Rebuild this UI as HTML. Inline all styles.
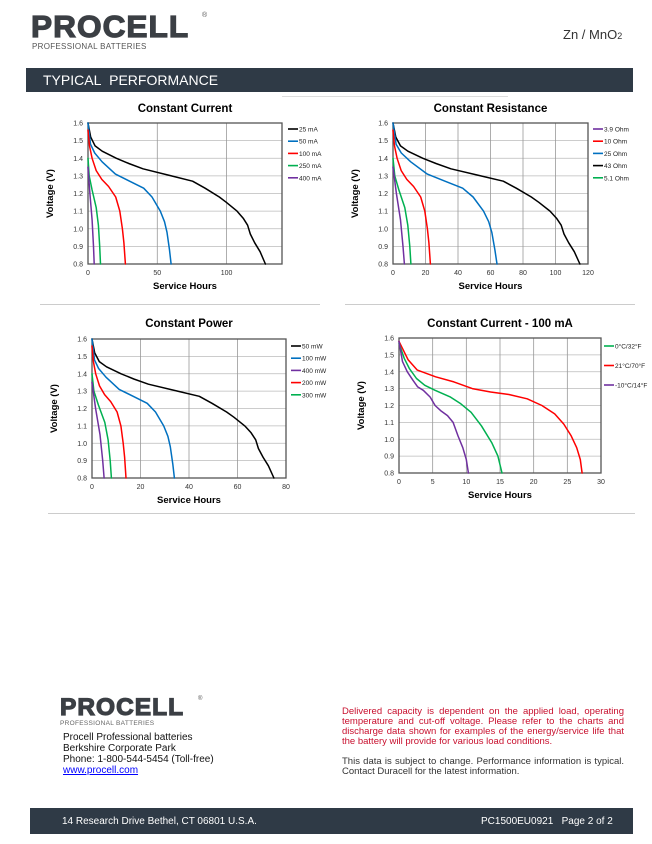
<!DOCTYPE html>
<html><head><meta charset="utf-8"><style>
body{margin:0;width:652px;height:844px;background:#fff;font-family:"Liberation Sans",sans-serif;position:relative;overflow:hidden}
.abs{position:absolute}
.logo{font-weight:900;color:#3b3f44;letter-spacing:1px;font-family:"Liberation Sans",sans-serif;-webkit-text-stroke:1.2px #3b3f44}
</style></head><body>
<div class="abs logo" style="left:31px;top:9px;font-size:31px;transform:scaleX(1.02);transform-origin:left">PROCELL</div>
<div class="abs" style="left:202px;top:12px;font-size:7px;color:#555">®</div>
<div class="abs" style="left:32px;top:42px;font-size:8px;color:#555;letter-spacing:.3px">PROFESSIONAL BATTERIES</div>
<div class="abs" style="left:563px;top:27px;font-size:13px;color:#333">Zn / MnO<span style="font-size:9px">2</span></div>
<div class="abs" style="left:26px;top:68px;width:607px;height:24px;background:#2f3a46"></div>
<div class="abs" style="left:43px;top:72px;font-size:14px;color:#fff">TYPICAL&nbsp; PERFORMANCE</div>
<div class="abs" style="left:282px;top:96px;width:226px;height:1px;background:#ddd"></div>
<div class="abs" style="left:40px;top:304px;width:280px;height:1px;background:#ccc"></div>
<div class="abs" style="left:345px;top:304px;width:290px;height:1px;background:#ccc"></div>
<div class="abs" style="left:48px;top:513px;width:587px;height:1px;background:#ccc"></div>
<svg id="s" class="abs" style="left:0;top:0" width="652" height="560" font-family="Liberation Sans, sans-serif"></svg>

<div class="abs logo" style="left:60px;top:694px;font-size:24px;transform:scaleX(1.02);transform-origin:left">PROCELL</div>
<div class="abs" style="left:198px;top:696px;font-size:6px;color:#555">®</div>
<div class="abs" style="left:60px;top:720px;font-size:6.5px;color:#666;letter-spacing:.3px">PROFESSIONAL BATTERIES</div>
<div class="abs" style="left:63px;top:732px;font-size:10px;line-height:11px;color:#111">Procell Professional batteries<br>Berkshire Corporate Park<br>Phone: 1-800-544-5454 (Toll-free)<br><span style="color:#00f;text-decoration:underline">www.procell.com</span></div>
<div class="abs" style="left:342px;top:707px;width:282px;font-size:9.5px;line-height:10px;color:#c8102e;text-align:justify">Delivered capacity is dependent on the applied load, operating temperature and cut-off voltage. Please refer to the charts and discharge data shown for examples of the energy/service life that the battery will provide for various load conditions.</div>
<div class="abs" style="left:342px;top:757px;width:282px;font-size:9.5px;line-height:10px;color:#333;text-align:justify">This data is subject to change. Performance information is typical. Contact Duracell for the latest information.</div>
<div class="abs" style="left:30px;top:808px;width:603px;height:26px;background:#2f3a46"></div>
<div class="abs" style="left:62px;top:816px;font-size:10px;color:#fff">14 Research Drive Bethel, CT 06801 U.S.A.</div>
<div class="abs" style="left:481px;top:816px;font-size:10px;color:#fff">PC1500EU0921 &nbsp; Page 2 of 2</div>
<script>
var s=document.getElementById('s'),h='';
var A=[[0,1.6],[.015,1.52],[.04,1.47],[.08,1.44],[.16,1.4],[.23,1.37],[.31,1.34],[.47,1.3],[.59,1.27],[.66,1.23],[.74,1.18],[.78,1.15],[.84,1.1],[.875,1.06],[.9,1.02],[.915,.97],[.94,.92],[.97,.87],[1,.8]];
var B=[[0,1.6],[.03,1.48],[.08,1.43],[.17,1.38],[.33,1.31],[.5,1.27],[.67,1.23],[.77,1.18],[.87,1.1],[.92,1.04],[.95,.98],[.98,.88],[1,.8]];
var C=[[0,1.56],[.04,1.47],[.11,1.4],[.22,1.33],[.37,1.28],[.55,1.24],[.74,1.18],[.85,1.1],[.92,1.0],[.96,.92],[1,.8]];
var D=[[0,1.4],[.1,1.3],[.33,1.22],[.66,1.12],[.83,1.02],[.94,.9],[1,.8]];
var E=[[0,1.35],[.3,1.2],[.66,1.05],[.88,.9],[1,.8]];
var W=[[0,1.58],[.05,1.47],[.1,1.41],[.2,1.37],[.3,1.34],[.4,1.3],[.5,1.28],[.6,1.265],[.7,1.24],[.78,1.2],[.85,1.15],[.9,1.09],[.94,1.02],[.97,.95],[.99,.88],[1,.8]];
var G=[[0,1.57],[.05,1.48],[.1,1.42],[.17,1.36],[.25,1.32],[.35,1.29],[.5,1.25],[.6,1.21],[.7,1.16],[.8,1.08],[.9,.98],[.96,.9],[1,.8]];
var P=[[0,1.58],[.05,1.46],[.12,1.4],[.2,1.35],[.27,1.31],[.35,1.29],[.45,1.25],[.52,1.2],[.6,1.17],[.7,1.14],[.78,1.1],[.85,1.02],[.92,.95],[.97,.88],[1,.8]];
function chart(c){
 var sx=function(x){return c.x0+(c.x1-c.x0)*x/c.xmax},sy=function(v){return c.y1-(c.y1-c.y0)*(v-.8)/.8};
 for(var i=0;i<=8;i++){var y=sy(.8+i*.1);h+='<line x1="'+c.x0+'" x2="'+c.x1+'" y1="'+y+'" y2="'+y+'" stroke="#bbb" stroke-width="0.8"/>';
  h+='<text x="'+(c.x0-5)+'" y="'+(y+2.5)+'" font-size="7" fill="#333" text-anchor="end">'+(0.8+i*.1).toFixed(1)+'</text>';}
 c.xt.forEach(function(t){var x=sx(t);h+='<line x1="'+x+'" x2="'+x+'" y1="'+c.y0+'" y2="'+c.y1+'" stroke="#999" stroke-width="0.8"/><text x="'+x+'" y="'+(c.y1+11)+'" font-size="7" fill="#333" text-anchor="middle">'+t+'</text>';});
 h+='<rect x="'+c.x0+'" y="'+c.y0+'" width="'+(c.x1-c.x0)+'" height="'+(c.y1-c.y0)+'" fill="none" stroke="#555" stroke-width="1.3"/>';
 c.s.forEach(function(q){var d='';q[0].forEach(function(p,k){d+=(k?'L':'M')+sx(p[0]*q[1]).toFixed(1)+','+sy(p[1]).toFixed(1)});h+='<path d="'+d+'" fill="none" stroke="'+q[2]+'" stroke-width="1.5" stroke-linejoin="round" stroke-linecap="round"/>';});
 var cx=(c.x0+c.x1)/2;
 h+='<text x="'+cx+'" y="'+c.ty+'" font-size="11.5" font-weight="bold" text-anchor="middle">'+c.t+'</text>';
 h+='<text x="'+cx+'" y="'+(c.y1+25)+'" font-size="9.5" font-weight="bold" text-anchor="middle">Service Hours</text>';
 var my=(c.y0+c.y1)/2;h+='<text transform="translate('+(c.x0-35)+','+my+') rotate(-90)" font-size="9.5" font-weight="bold" text-anchor="middle">Voltage (V)</text>';
 c.l.forEach(function(L,i){var y=c.ly+i*c.ld;h+='<line x1="'+c.lx+'" x2="'+(c.lx+10)+'" y1="'+y+'" y2="'+y+'" stroke="'+L[1]+'" stroke-width="1.6"/><text x="'+(c.lx+11)+'" y="'+(y+2.5)+'" font-size="6.5" fill="#222">'+L[0]+'</text>';});
}
chart({x0:88,x1:282,y0:123,y1:264,xmax:140,xt:[0,50,100],t:'Constant Current',ty:112,
 s:[[A,128,'#000'],[B,60,'#0070c0'],[C,27,'#f00'],[D,9,'#00b050'],[E,4.5,'#7030a0']],
 lx:288,ly:129,ld:12.2,l:[['25 mA','#000'],['50 mA','#0070c0'],['100 mA','#f00'],['250 mA','#00b050'],['400 mA','#7030a0']]});
chart({x0:393,x1:588,y0:123,y1:264,xmax:120,xt:[0,20,40,60,80,100,120],t:'Constant Resistance',ty:112,
 s:[[A,115,'#000'],[B,64,'#0070c0'],[C,23,'#f00'],[D,11,'#00b050'],[E,7,'#7030a0']],
 lx:593,ly:129,ld:12.2,l:[['3.9 Ohm','#7030a0'],['10 Ohm','#f00'],['25 Ohm','#0070c0'],['43 Ohm','#000'],['5.1 Ohm','#00b050']]});
chart({x0:92,x1:286,y0:339,y1:478,xmax:80,xt:[0,20,40,60,80],t:'Constant Power',ty:327,
 s:[[A,75,'#000'],[B,34,'#0070c0'],[C,14,'#f00'],[D,8,'#00b050'],[E,5,'#7030a0']],
 lx:291,ly:346,ld:12.2,l:[['50 mW','#000'],['100 mW','#0070c0'],['400 mW','#7030a0'],['200 mW','#f00'],['300 mW','#00b050']]});
chart({x0:399,x1:601,y0:338,y1:473,xmax:30,xt:[0,5,10,15,20,25,30],t:'Constant Current - 100 mA',ty:327,
 s:[[W,27.2,'#f00'],[G,15.3,'#00b050'],[P,10.3,'#7030a0']],
 lx:604,ly:346,ld:19.5,l:[['0°C/32°F','#00b050'],['21°C/70°F','#f00'],['-10°C/14°F','#7030a0']]});
s.innerHTML=h;
</script>
</body></html>
